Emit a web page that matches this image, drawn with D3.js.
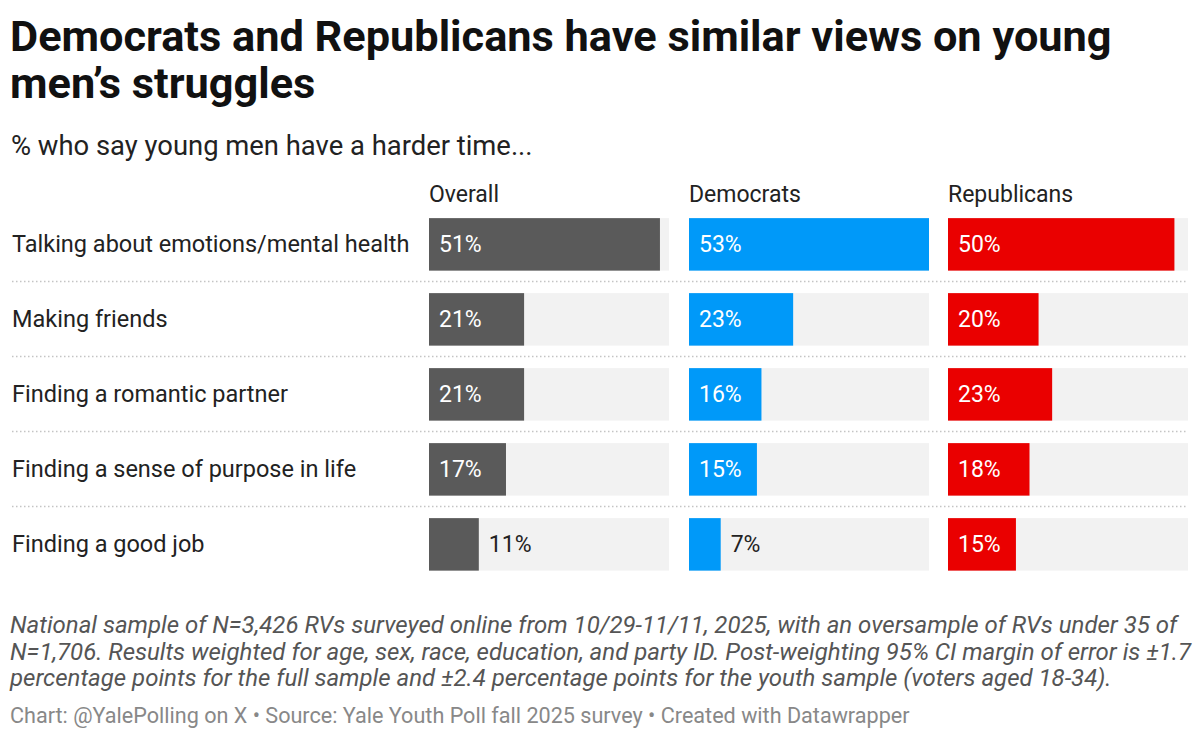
<!DOCTYPE html>
<html><head><meta charset="utf-8">
<script src="https://cdn.jsdelivr.net/npm/d3@7"></script>
<style>
body{margin:0;background:#fff;}
svg text{font-family:Roboto, "Noto Sans", sans-serif;}
</style></head>
<body><svg id="c" width="1200" height="738"></svg>
<script>
const categories = ["Talking about emotions/mental health","Making friends","Finding a romantic partner","Finding a sense of purpose in life","Finding a good job"];
const groups = ["Overall","Democrats","Republicans"];
const overall = [51,21,21,17,11];
const democrats = [53,23,16,15,7];
const republicans = [50,20,23,18,15];
const colors = ["#5a5a5a","#0099f9","#ea0000"];
const series = [overall, democrats, republicans];

const svg = d3.select("#c");
svg.append("text").attr("font-size",43.3).attr("font-weight",700).attr("fill","#111")
  .selectAll("tspan").data(["Democrats and Republicans have similar views on young","men’s struggles"]).join("tspan")
  .attr("x",10).attr("y",(d,i)=>51+i*47).text(d=>d);
svg.append("text").attr("x",11).attr("y",155).attr("font-size",27.4).attr("fill","#222").text("% who say young men have a harder time...");

const colX = d3.scaleOrdinal().domain(groups).range([429,689,948]);
const colW = 240;
const x = d3.scaleLinear().domain([0, d3.max(series.flat())]).range([0,colW]);
const y = d3.scaleBand().domain(categories).range([205,583.75]).paddingInner(0.3).paddingOuter(0.175);

groups.forEach(g=>{
  svg.append("text").attr("x",colX(g)).attr("y",202).attr("font-size",23).attr("fill","#222").text(g);
});
categories.slice(1).forEach(c=>{
  const yy = Math.round(y(c)-y.step()*0.15)-0.5;
  svg.append("line").attr("x1",12).attr("x2",1188).attr("y1",yy).attr("y2",yy)
    .attr("stroke","#c4c4c4").attr("stroke-width",1.3).attr("stroke-dasharray","1.5,2.5");
});
categories.forEach(c=>{
  svg.append("text").attr("x",12).attr("y",y(c)+y.bandwidth()/2+8).attr("font-size",23.5).attr("fill","#222").text(c);
});
groups.forEach((g,gi)=>{
  const gg = svg.append("g").attr("transform",`translate(${colX(g)},0)`);
  gg.selectAll("rect.bg").data(categories).join("rect").attr("class","bg")
    .attr("x",0).attr("y",d=>y(d)).attr("width",colW).attr("height",y.bandwidth()).attr("fill","#f2f2f2");
  gg.selectAll("rect.v").data(series[gi]).join("rect").attr("class","v")
    .attr("x",0).attr("y",(d,i)=>y(categories[i])).attr("width",d=>x(d)).attr("height",y.bandwidth()).attr("fill",colors[gi]);
  gg.selectAll("text.l").data(series[gi]).join("text").attr("class","l")
    .attr("x",d=> d>=13 ? 10 : x(d)+10)
    .attr("y",(d,i)=>y(categories[i])+y.bandwidth()/2+8)
    .attr("font-size",23).attr("fill",d=> d>=13 ? "#fff" : "#222").text(d=>d+"%");
});
const notes = ["National sample of N=3,426 RVs surveyed online from 10/29-11/11, 2025, with an oversample of RVs under 35 of",
"N=1,706. Results weighted for age, sex, race, education, and party ID. Post-weighting 95% CI margin of error is ±1.7",
"percentage points for the full sample and ±2.4 percentage points for the youth sample (voters aged 18-34)."];
svg.append("text").attr("font-size",24).attr("font-style","italic").attr("fill","#555")
  .selectAll("tspan").data(notes).join("tspan").attr("x",10).attr("y",(d,i)=>633+i*26.5).text(d=>d);
svg.append("text").attr("x",10).attr("y",723).attr("font-size",21.6).attr("fill","#888")
  .text("Chart: @YalePolling on X • Source: Yale Youth Poll fall 2025 survey • Created with Datawrapper");
</script></body></html>
